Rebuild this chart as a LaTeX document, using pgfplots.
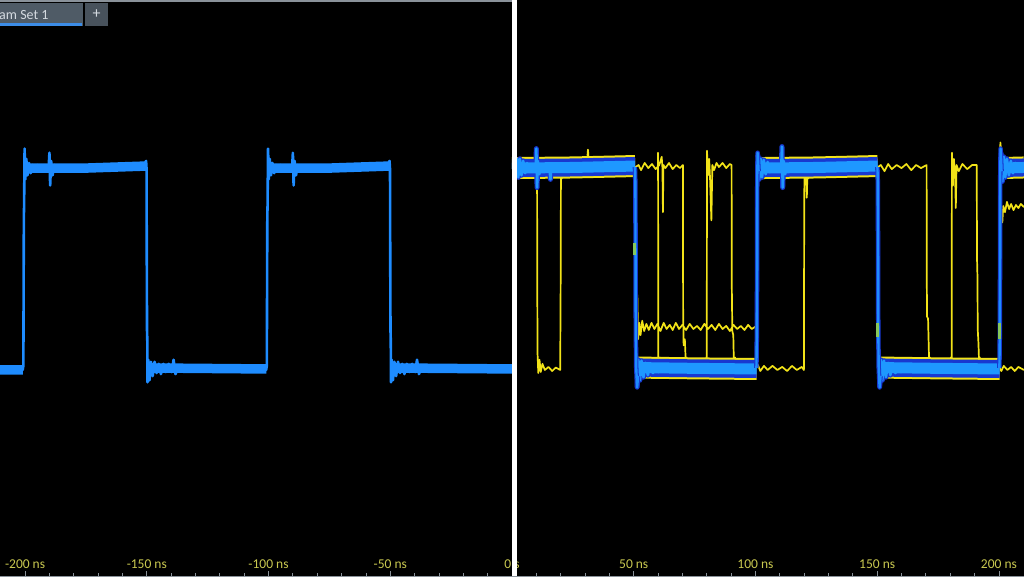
\documentclass[border=0pt]{standalone}
\usepackage{pgfplots}
\pgfplotsset{compat=1.18}
\usepackage{fontspec}
\setmainfont{Carlito}

\definecolor{chA}{HTML}{1E8CFF}
\definecolor{bandcore}{HTML}{1E98FF}
\definecolor{banddark}{HTML}{1838D0}
\definecolor{chB}{HTML}{F2E318}
\definecolor{overlap}{HTML}{86C85A}
\definecolor{ticktext}{HTML}{C9C850}
\definecolor{tabbg}{HTML}{4F5B66}
\definecolor{tabplus}{HTML}{48525C}
\definecolor{tabline}{HTML}{3C8CE6}
\definecolor{tabtext}{HTML}{D4DAE0}
\definecolor{rulegray}{HTML}{8A929A}

% left screen, channel 1 band (flat parts)
\pgfplotstableread{
x y
-210.3 0.0
-200.9 0.0
-200.8 nan
-199.8 0.985
-175 0.985
-150.2 0.995
-150.1 nan
-149.6 0.01
-100.9 0.005
-100.8 nan
-99.8 0.985
-75 0.985
-50.2 0.995
-50.1 nan
-49.6 0.01
0.5 0.005
}\leftband

% right screen, channel 1 band
\pgfplotstableread{
x y
0.0 0.985
25 0.988
50.6 0.995
50.65 nan
50.8 0.012
75 0.008
100.5 0.005
100.55 nan
100.7 0.985
125 0.988
150.2 0.995
150.25 nan
150.4 0.012
175 0.008
200.3 0.005
200.35 nan
200.5 0.985
210.3 0.988
}\rightband

% right screen, channel 1 edges
\pgfplotstableread{
x y
50.5 0.99
50.7 0.9
50.8 0.3
51.0 0.02
51.4 -0.085
51.8 -0.03
51.9 nan
100.4 0.01
100.6 0.2
100.75 0.95
100.9 1.06
101.3 0.97
101.4 nan
150.1 0.99
150.3 0.9
150.4 0.3
150.6 0.02
151.0 -0.085
151.4 -0.03
151.5 nan
200.2 0.01
200.4 0.2
200.55 0.95
200.7 1.08
201.1 0.97
}\rightedges

% right screen, channel 1 ringing after the edges
\pgfplotstableread{
x y
2.0 1.035
2.6 0.94
3.2 1.03
3.9 0.95
4.6 1.02
5.4 0.96
6.2 1.01
7.0 0.97
8.0 1.0
9.0 0.975
9.8 0.99
10.0 1.08
10.3 0.89
10.6 1.02
11.2 0.955
12.0 1.0
13.0 0.97
14.0 0.995
15.4 0.98
15.8 0.93
16.2 0.99
17.5 0.975
19.0 0.99
21.0 0.985
21.1 nan
51.4 -0.085
51.9 0.05
52.5 -0.05
53.2 0.045
54.0 -0.035
54.9 0.035
55.8 -0.025
56.8 0.03
57.9 -0.015
59.0 0.025
60.2 -0.01
61.5 0.02
62.8 -0.005
64.0 0.018
66.0 0.003
68.0 0.012
70.0 0.008
70.1 nan
101.0 1.05
101.5 0.93
102.1 1.03
102.7 0.94
103.4 1.025
104.2 0.955
105.0 1.015
105.9 0.965
106.8 1.005
107.8 0.975
108.8 0.995
109.8 0.98
110.6 0.99
110.9 1.09
111.2 0.89
111.6 1.02
112.2 0.955
113.0 1.0
114.0 0.97
115.2 0.995
116.5 0.975
118.0 0.99
121.0 0.985
121.1 nan
151.0 -0.085
151.5 0.05
152.1 -0.05
152.8 0.045
153.6 -0.035
154.5 0.035
155.4 -0.025
156.4 0.03
157.5 -0.015
158.6 0.025
159.8 -0.01
161.1 0.02
162.4 -0.005
163.6 0.018
165.6 0.003
167.6 0.012
169.6 0.008
169.7 nan
200.9 1.06
201.4 0.92
202.0 1.04
202.6 0.94
203.3 1.03
204.1 0.95
204.9 1.02
205.8 0.96
206.7 1.01
207.7 0.97
208.7 1.005
209.7 0.98
210.3 0.99
}\rightring

% right screen, channel 2 (persistence traces)
\pgfplotstableread{
x y
9.8 0.935
10.3 0.935
10.4 0.35
10.5 0.08
10.8 -0.015
11.3 0.05
11.8 -0.01
12.5 0.03
13.5 0.0
15 0.015
16.5 -0.005
18 0.012
19.8 0.0
20.0 0.45
20.1 0.935
20.8 0.935
20.9 nan
59.5 0.99
59.9 0.99
60.0 1.06
60.05 0.55
60.1 0.06
61 0.06
61.1 nan
50.7 0.99
52.0 1.0
53.0 0.975
54.5 1.01
56.0 0.985
57.5 1.005
59.0 0.98
60.5 1.0
61.5 1.04
61.8 0.985
62.0 0.77
62.2 1.0
63.0 0.985
64.5 1.01
66.0 0.98
67.5 1.0
69.0 0.985
70.2 1.0
70.3 0.3
70.5 0.12
71.0 0.15
71.3 0.06
72.0 0.06
72.1 nan
79.5 0.06
80.0 0.06
80.1 1.07
80.5 0.95
81.0 1.03
81.4 0.92
81.9 0.73
82.3 1.0
83.0 0.975
84.0 1.01
85.0 0.99
86.5 1.01
88.0 0.985
89.5 1.005
90.2 1.0
90.3 0.4
90.5 0.19
90.9 0.17
91.1 0.06
92.0 0.06
92.1 nan
50.8 0.99
51.0 0.40
51.5 0.36
51.8 0.15
52.3 0.23
52.8 0.17
53.5 0.24
54.3 0.19
55.2 0.225
56.2 0.195
57.3 0.23
58.5 0.2
59.7 0.225
61.0 0.19
62.3 0.23
63.5 0.2
64.8 0.22
66.0 0.195
67.3 0.23
68.6 0.2
70.0 0.22
71.5 0.195
73.0 0.225
74.5 0.2
76.0 0.215
77.5 0.195
79.0 0.225
80.5 0.2
82.0 0.22
83.5 0.195
85.0 0.225
86.5 0.2
88.0 0.215
89.5 0.19
91.0 0.22
92.5 0.2
94.0 0.215
95.5 0.195
97.0 0.22
98.5 0.2
99.8 0.21
100.5 0.21
100.6 0.99
100.7 nan
100.5 0.01
101 0.025
102 -0.005
103.5 0.02
105 0.0
107 0.02
109 0.0
111 0.015
113 -0.005
115 0.02
117 0.0
119 0.015
119.9 0.0
120.0 0.6
120.1 0.935
120.8 0.935
121.1 0.84
121.3 0.935
122 0.935
122.1 nan
150.3 0.99
151.5 1.0
153.0 0.97
154.5 1.005
156.0 0.98
158.0 1.0
160.0 0.985
162.0 1.005
164.0 0.975
166.0 1.0
168.0 0.985
170.3 1.0
170.4 0.4
170.5 0.26
170.9 0.25
171.3 0.06
172.0 0.06
172.1 nan
180.0 0.06
180.6 0.06
180.7 1.06
181.1 0.9
181.5 1.03
182.0 0.95
182.3 0.79
182.6 1.0
183.5 0.97
185.0 1.005
187.0 0.98
189.0 1.0
190.9 1.0
191.0 0.55
191.2 0.45
191.3 0.2
191.6 0.13
191.8 0.06
192.5 0.06
192.6 nan
200.2 0.01
201 -0.005
202 0.02
203.5 0.0
205 0.015
206.5 -0.005
208 0.015
210.3 0.0
210.35 nan
200.3 0.15
200.45 0.5
200.6 0.8
201.0 0.76
201.4 0.72
201.8 0.8
202.5 0.77
203.3 0.82
204.2 0.785
205.0 0.81
206.0 0.78
207.0 0.805
208.0 0.79
209.0 0.81
210.3 0.795
210.35 nan
200.5 1.0
200.6 1.11
200.9 1.07
201.2 1.0
201.3 nan
31.0 1.045
31.2 1.075
31.4 1.045
}\chtwo

\begin{document}
\begin{tikzpicture}[x=1pt,y=1pt]
\useasboundingbox (0,0) rectangle (1024,576);
\clip (0,0) rectangle (1024,576);
\fill[black] (0,0) rectangle (1024,576);
\begin{axis}[
    at={(0,0)}, anchor=south west,
    width=1024pt, height=576pt, scale only axis,
    xmin=-210.3, xmax=210.3,
    ymin=-1.005, ymax=1.805,
    axis x line*=bottom, axis y line=none,
    x axis line style={draw=rulegray, line width=1pt},
    xtick={-200,-150,...,200},
    xticklabels={-200 ns,-150 ns,-100 ns,-50 ns,0 s,50 ns,100 ns,150 ns,200 ns},
    minor x tick num=4,
    xtick align=inside,
    major tick length=5pt, minor tick length=3pt,
    tick style={draw=rulegray, line width=0.8pt},
    xticklabel style={text=ticktext, font=\fontsize{13.5}{15}\selectfont,
        anchor=base, yshift=8pt},
    ytick=\empty,
    unbounded coords=jump,
    no markers,
]

% channel 2 first, channel 1 drawn over it
\addplot[chB, line width=1.7pt, line join=round] table {\chtwo};

\addplot[chB, line width=22pt, line cap=butt] table {\rightband};
\addplot[banddark, line width=18pt, line cap=butt] table {\rightband};
\addplot[banddark, line width=5pt, line join=round] table {\rightring};
\addplot[bandcore, line width=11pt, line cap=butt] table {\rightband};
\addplot[bandcore, line width=2.6pt, line join=round] table {\rightring};
\addplot[banddark, line width=4.5pt, line join=round] table {\rightedges};
\addplot[chA, line width=2.4pt, line join=round] table {\rightedges};

\addplot[overlap, line width=3pt] coordinates {
    (50.3,0.56) (50.3,0.62) (50.31,nan)
    (150.2,0.16) (150.2,0.23) (150.21,nan)
    (200.2,0.15) (200.2,0.23)};

% left screen, channel 1 only
\addplot[chA, line width=9.5pt, line cap=butt] table {\leftband};
\addplot[chA, line width=2.6pt, line join=round] coordinates {
    (-210.3,0.0) (-205,0.005) (-201.0,0.0) (-200.7,0.02) (-200.5,0.75)
    (-200.4,0.8) (-200.2,1.08) (-199.9,0.93) (-199.5,1.03) (-199.0,0.95)
    (-198.4,1.01) (-197.7,0.96) (-196.9,1.0) (-196.0,0.97) (-195.0,1.0)
    (-193.8,0.975) (-192.5,0.995) (-191.2,0.98) (-190.3,0.99) (-190.0,1.06)
    (-189.7,0.9) (-189.3,1.02) (-188.7,0.95) (-188.0,1.0) (-187.2,0.97)
    (-186.2,0.99) (-185.0,0.975) (-183.5,0.99) (-182,0.98) (-175,0.985)
    (-165,0.985) (-155,0.99) (-151,1.0) (-150.3,1.02) (-150.1,0.98)
    (-150.0,0.5) (-149.9,0.19) (-149.8,0.15) (-149.7,-0.06) (-149.4,0.05)
    (-148.9,-0.05) (-148.3,0.04) (-147.6,-0.03) (-146.8,0.04) (-146.0,-0.015)
    (-145.1,0.03) (-144.2,-0.02) (-143.2,0.03) (-142.2,-0.01) (-141.0,0.03)
    (-139.8,-0.01) (-139.0,0.05) (-138.2,-0.02) (-137.0,0.02) (-135.5,0.0)
    (-134.0,0.02) (-132,0.0) (-125,0.01) (-110,0.01) (-101.0,0.0)
    (-100.7,0.02) (-100.5,0.75) (-100.4,0.8) (-100.2,1.08) (-99.9,0.93)
    (-99.5,1.03) (-99.0,0.95) (-98.4,1.01) (-97.7,0.96) (-96.9,1.0)
    (-96.0,0.97) (-95.0,1.0) (-93.8,0.975) (-92.5,0.995) (-91.2,0.98)
    (-90.3,0.99) (-90.0,1.06) (-89.7,0.9) (-89.3,1.02) (-88.7,0.95)
    (-88.0,1.0) (-87.2,0.97) (-86.2,0.99) (-85.0,0.975) (-83.5,0.99)
    (-82,0.98) (-75,0.985) (-65,0.985) (-55,0.99) (-51,1.0) (-50.3,1.02)
    (-50.1,0.98) (-50.0,0.5) (-49.9,0.19) (-49.8,0.15) (-49.7,-0.06)
    (-49.4,0.05) (-48.9,-0.05) (-48.3,0.04) (-47.6,-0.03) (-46.8,0.04)
    (-46.0,-0.015) (-45.1,0.03) (-44.2,-0.02) (-43.2,0.03) (-42.2,-0.01)
    (-41.0,0.03) (-39.8,-0.01) (-39.0,0.05) (-38.2,-0.02) (-37.0,0.02)
    (-35.5,0.0) (-34.0,0.02) (-32,0.0) (-25,0.01) (-10,0.01) (0.5,0.005)};

% divider between the two screens
\draw[white, line width=5pt] (axis cs:0.9,-1.005) -- (axis cs:0.9,1.805);
\end{axis}

% tab strip of the scope window
\fill[rulegray] (0,574.4) rectangle (512,576);
\fill[tabbg] (0,550) rectangle (83,572.7);
\fill[tabline] (0,550) rectangle (82,552.7);
\node[anchor=base west, inner sep=0pt, text=tabtext,
      font=\fontsize{14}{16}\selectfont] at (-1,556.5) {am Set 1};
\fill[tabplus] (85,550) rectangle (108,572.7);
\node[inner sep=0pt, text=tabtext, font=\fontsize{16}{18}\selectfont]
      at (96.5,561.5) {+};
\end{tikzpicture}
\end{document}
